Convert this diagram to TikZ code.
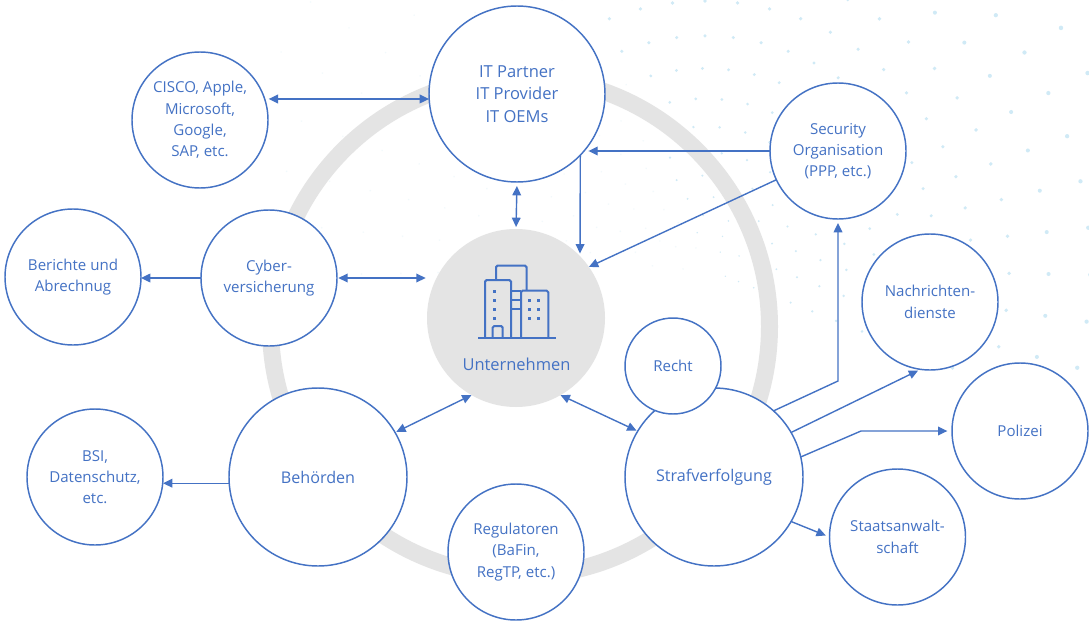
\documentclass[tikz,border=0pt]{standalone}
\usepackage{fontspec}
\setmainfont{Open Sans}
\usetikzlibrary{arrows.meta}
\definecolor{lnblue}{HTML}{4472C4}
\definecolor{ringgray}{HTML}{E4E4E4}
\definecolor{dotblue}{HTML}{D0EAF6}
\tikzset{
  bub/.style={circle,draw=lnblue,line width=1.1pt,fill=white,inner sep=0pt,outer sep=0pt,align=center,text=lnblue,font=\fontsize{11.3}{16}\selectfont},
  sm/.style={bub,minimum size=102pt},
  lg/.style={bub,minimum size=133.5pt,font=\fontsize{12.1}{17}\selectfont},
  con/.style={draw=lnblue,line width=1.05pt},
  ar/.style={con,-{Triangle[length=7pt,width=6.5pt]}},
  arr/.style={con,{Triangle[length=7pt,width=6.5pt]}-{Triangle[length=7pt,width=6.5pt]}},
  icon/.style={draw=lnblue,line width=1.5pt,rounded corners=1.2pt},
  win/.style={fill=lnblue}
}
\begin{document}
\begin{tikzpicture}[x=0.75pt,y=-0.75pt]
\fill[white] (0,0) rectangle (1089,621);
\useasboundingbox (0,0) rectangle (1089,621);
% faint dot field
\begin{scope}
\clip (0,0) rectangle (1089,621);
\foreach \k in {0,...,15}{
  \pgfmathsetmacro{\rr}{22+\k*13+\k*\k*1.15}
  \pgfmathsetmacro{\st}{max(7,1500/\rr)}
  \pgfmathsetmacro{\sn}{-22+\st}
  \pgfmathsetmacro{\sz}{0.7+\k*0.11}
  \foreach \a in {-22,\sn,...,185}{
    \pgfmathsetmacro{\pc}{ifthenelse(\a>112,30,100)}
    \pgfmathsetmacro{\szz}{ifthenelse(\a>112,0.8,\sz)}
    \fill[dotblue!\pc] ({705+\rr*cos(\a)},{268-\rr*sin(\a)}) circle[radius=\szz];
  }
}
\end{scope}
% ring
\draw[ringgray,line width=12.75pt] (520,326.5) circle[radius=249.5];
% nodes
\node[bub,minimum size=132pt,font=\fontsize{12.4}{17}\selectfont] (it) at (517,94) {IT Partner\\IT Provider\\IT OEMs};
\node[sm] (cisco) at (200,120) {CISCO, Apple,\\Microsoft,\\Google,\\SAP, etc.};
\node[sm] (sec) at (838,151) {Security\\Organisation\\(PPP, etc.)};
\node[sm] (cyber) at (269,278) {Cyber-\\versicherung};
\node[sm] (ber) at (73,277) {Berichte und\\Abrechnug};
\node[circle,fill=ringgray,minimum size=133.5pt,inner sep=0pt,outer sep=0pt] (u) at (516,318) {};
\node[text=lnblue,font=\fontsize{12.35}{15}\selectfont,inner sep=0pt] (utext) at (516.5,364) {Unternehmen};
\node[sm] (nach) at (930,302) {Nachrichten-\\dienste};
\node[sm] (pol) at (1020,431) {Polizei};
\node[lg] (straf) at (714,477) {Strafverfolgung};
\node[bub,minimum size=72pt] (recht) at (673,366) {Recht};
\node[sm] (staat) at (897.5,537) {Staatsanwalt-\\schaft};
\node[lg] (beh) at (318,477) {Behörden};
\node[sm] (bsi) at (95,477) {BSI,\\Datenschutz,\\etc.};
\node[sm] (reg) at (516,552) {Regulatoren\\(BaFin,\\RegTP, etc.)};
% bend points
\coordinate (b1) at (838,381);
\coordinate (b2) at (861,431);
% connectors
\draw[arr,shorten <=3pt] (cisco.18) -- (cisco.18 -| it.west);
\draw[arr,shorten <=3pt,shorten >=1.5pt] (it.south) -- (u.north);
\draw[ar,shorten >=2pt] (it.-44) -- (u.44);
\draw[ar,shorten >=3pt] (sec.west) -- (it.-40 |- sec.west);
\draw[ar] (sec.205) -- (u.35);
\draw[arr,shorten <=1pt,shorten >=1pt] (cyber.east) -- (u.west |- cyber.east);
\draw[ar] (cyber.west) -- (ber.east |- cyber.west);
\draw[arr,shorten <=1pt] (beh.30) -- (u.240);
\draw[ar] (beh.184) -- (bsi.east |- beh.184);
\draw[arr,shorten <=1pt] (straf.149.5) -- (u.-60);
\draw[ar,shorten >=3pt] (straf.48) -- (b1) -- (b1 |- sec.south);
\draw[ar,shorten >=2pt] (straf.30) -- (nach.262);
\draw[ar,shorten >=3.5pt] (straf.13) -- (b2) -- (pol.west |- b2);
\draw[ar,shorten >=3pt] (straf.-30) -- (staat.180);
% building icon
\draw[icon] (496,280) -- (496,265.5) -- (526.5,265.5) -- (526.5,290.7);
\draw[icon] (485,338) -- (485,280) -- (511,280) -- (511,338);
\draw[icon] (521,338) -- (521,290.7) -- (548.3,290.7) -- (548.3,338);
\draw[icon] (492.7,338) -- (492.7,326) -- (502.7,326) -- (502.7,338);
\draw[icon,rounded corners=0pt] (511,290.7) -- (521,290.7) (511,300) -- (521,300) (511,309) -- (521,309);
\draw[icon,rounded corners=0pt] (478,338) -- (555.5,338);
\foreach \y in {291.7,300.7,309.7,318.7} \fill[win] (493,\y-1.7) rectangle (496.4,\y+1.7);
\foreach \x in {529.3,538.3} \foreach \y in {300.7,309.5,318.7} \fill[win] (\x-1.7,\y-1.7) rectangle (\x+1.7,\y+1.7);
\end{tikzpicture}
\end{document}
